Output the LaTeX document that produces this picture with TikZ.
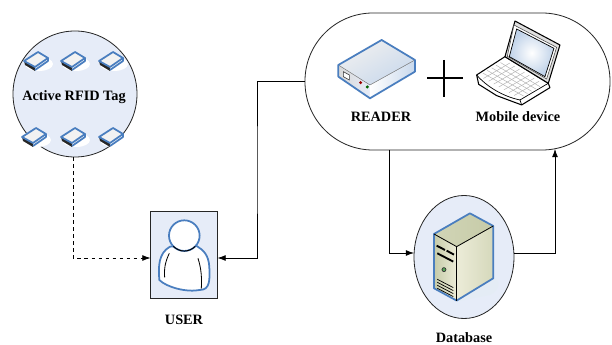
\documentclass[tikz,border=0pt]{standalone}
\usepackage{fontspec}
\setmainfont{Liberation Serif}
\usetikzlibrary{shapes.geometric,arrows.meta}
\definecolor{backblue}{HTML}{E6ECF8}
\definecolor{iconblue}{HTML}{4A7EBF}
\definecolor{serverlight}{HTML}{ECECD8}
\definecolor{serverdark}{HTML}{C6CBA8}
\tikzset{
  wire/.style={draw=black, line width=0.6pt, >={Latex[length=7pt,width=5pt]}},
  outline/.style={draw=black!85, line width=0.7pt},
  iconline/.style={draw=iconblue, line width=1.5pt, line join=round},
  caption/.style={font=\bfseries\fontsize{12.2}{14}\selectfont, inner sep=0pt},
  tagicon/.pic={
    \fill[white] (2,4) ellipse (14 and 7);
    \fill[black!85] (-13,1) -- (-12,5) -- (-2,11) -- (-2,7) -- cycle;
    \path[iconline, fill=black!5] (-13,1) -- (1,-8) -- (11,-2) -- (-2,7) -- cycle;
    \draw[iconline] (11,-2) -- (11,1) -- (-2,10);
  }
}
\begin{document}
\begin{tikzpicture}[x=0.03cm,y=-0.03cm]
  \useasboundingbox (0,0) rectangle (612,345);

  % the four blocks
  \node[outline, fill=backblue, ellipse, minimum width=3.72cm, minimum height=3.78cm, inner sep=0pt] (tag) at (75,94) {};
  \node[outline, fill=backblue, rectangle, minimum width=2cm, minimum height=2.63cm, inner sep=0pt] (user) at (184,255) {};
  \node[outline, fill=backblue, ellipse, minimum width=3cm, minimum height=3.69cm, inner sep=0pt] (dbase) at (464,257) {};
  \node[outline, fill=white, rectangle, rounded corners=2.04cm, minimum width=9.15cm, minimum height=4.11cm, inner sep=0pt] (reader) at (457.5,81.5) {};

  % tags
  \foreach \x/\y in {37/60,74/60,112/60,35/136,74/136,112/136}
  {
    \pic at (\x,\y) {tagicon};
  }

  % connectors
  \coordinate (tagout) at (73,157);
  \coordinate (userleft) at (150.5,258);
  \coordinate (userright) at (217.5,258);
  \coordinate (turn) at (257,170);
  \coordinate (readout) at (389,150);
  \coordinate (dbin) at (414,253);
  \coordinate (dbout) at (514,253);
  \coordinate (readin) at (555,149);
  \draw[wire, dashed, ->] (tagout) |- (userleft);
  \draw[wire, ->] (reader.west) -| (turn) |- (userright);
  \draw[wire, ->] (readout) |- (dbin);
  \draw[wire, ->] (dbout) -| (readin);

  % person
  \begin{scope}[shift={(130,200)},x=0.01cm,y=-0.01cm]
    \path[iconline, fill=white] (120,140) .. controls (85,160) and (85,200) .. (88,240)
      .. controls (110,262) and (170,278) .. (210,270)
      .. controls (240,270) and (240,240) .. (238,200)
      .. controls (236,165) and (220,150) .. (200,138) -- cycle;
    \draw[line width=0.7pt] (118,160) .. controls (106,185) and (102,205) .. (104,232);
    \draw[line width=0.7pt] (204,175) .. controls (214,205) and (216,235) .. (214,266);
    \path[iconline, fill=white] (163,107) circle (46);
    \draw[line width=0.8pt] (130,139) .. controls (150,158) and (176,158) .. (196,139);
  \end{scope}

  % reader box
  \begin{scope}[shift={(330,30)},x=0.01cm,y=-0.01cm]
    \path[left color=black!15, right color=backblue] (25,105) -- (120,165) -- (120,205) -- (25,140) -- cycle;
    \path[left color=white, right color=iconblue!30] (120,165) -- (255,90) -- (255,125) -- (120,205) -- cycle;
    \path[left color=black!6, right color=iconblue!30, shading angle=30] (25,105) -- (155,30) -- (255,90) -- (120,165) -- cycle;
    \draw[black!55, line width=0.4pt] (25,105) -- (120,165) -- (255,90);
    \draw[iconline] (25,105) -- (155,30) -- (255,90) -- (255,125) -- (120,205) -- (25,140) -- cycle;
    \draw[black!80, fill=white, line width=0.5pt] (40,125) -- (58,135) -- (58,150) -- (40,140) -- cycle;
    \fill[red!60!black] (92,158) circle (5);
    \fill[green!40!black] (112,171) circle (5);
  \end{scope}

  % plus
  \coordinate (plusl) at (427,78);
  \coordinate (plusr) at (463,78);
  \coordinate (plust) at (444,60);
  \coordinate (plusb) at (444,97);
  \draw[line width=1.4pt] (plusl) -- (plusr);
  \draw[line width=1.4pt] (plust) -- (plusb);

  % laptop
  \begin{scope}[shift={(470,15)},x=0.01cm,y=-0.01cm]
    \draw[fill=white, line width=0.9pt, line join=round] (20,180) -- (105,125) -- (235,205) -- (240,218) -- (155,270) -- (80,242) -- (26,208) -- cycle;
    \draw[line width=0.6pt] (20,180) .. controls (50,215) and (100,245) .. (150,255) -- (235,205);
    \draw[line width=0.6pt] (150,255) -- (155,270);
    \foreach \i in {1,...,5}
    {
      \draw[black!30, line width=0.4pt] ({105+\i*(25-105)/6},{135+\i*(182-135)/6}) -- ({222+\i*(148-222)/6},{208+\i*(250-208)/6});
    }
    \foreach \i in {1,...,7}
    {
      \draw[black!30, line width=0.4pt] ({105+\i*(222-105)/8},{135+\i*(208-135)/8}) -- ({25+\i*(148-25)/8},{182+\i*(250-182)/8});
    }
    \draw[fill=black!12, line width=0.9pt, line join=round] (135,18) -- (270,90) -- (235,205) -- (105,125) -- cycle;
    \draw[black!70, fill=white, line width=0.5pt] (132,30) -- (260,97) -- (230,192) -- (112,124) -- cycle;
    \path[inner color=white, outer color=iconblue!35, draw=black, line width=0.6pt] (140,42) -- (252,100) -- (225,185) -- (118,125) -- cycle;
  \end{scope}

  % server
  \begin{scope}[shift={(380,190)},x=0.01cm,y=-0.01cm]
    \fill[iconblue!15] (230,335) -- (340,265) .. controls (365,270) and (360,300) .. (330,315) -- cycle;
    \path[left color=serverdark, right color=serverlight] (162,132) -- (230,170) -- (230,332) -- (162,295) -- cycle;
    \path[left color=serverlight, right color=serverdark!60!serverlight] (230,170) -- (340,108) -- (340,265) -- (230,332) -- cycle;
    \path[left color=serverdark!70!serverlight, right color=serverdark] (162,132) -- (270,70) -- (340,108) -- (230,170) -- cycle;
    \draw[iconline] (230,332) -- (162,295) -- (162,132) -- (270,70) -- (340,108) -- (340,265) -- (230,332);
    \draw[line width=0.7pt] (162,132) -- (230,170) -- (340,108);
    \draw[line width=0.7pt] (230,170) -- (230,332);
    \draw[line width=1.6pt] (170,167) -- (195,180);
    \draw[line width=1.6pt] (200,182) -- (222,194);
    \draw[line width=1.6pt] (172,190) -- (220,215);
    \draw[black!80, fill=green!30!gray, line width=0.6pt] (192,239) circle (6);
    \foreach \i in {0,1,2,3}
    {
      \draw[line width=0.6pt] (172,{268+\i*9}) -- (220,{293+\i*9});
    }
  \end{scope}

  % labels
  \node[caption] (taglabel) at (74,97) {Active RFID Tag};
  \node[caption] (readerlabel) at (381,117) {READER};
  \node[caption] (mobilelabel) at (518,117) {Mobile device};
  \node[caption] (userlabel) at (184,320) {USER};
  \node[caption] (dblabel) at (464,338) {Database};
\end{tikzpicture}
\end{document}
